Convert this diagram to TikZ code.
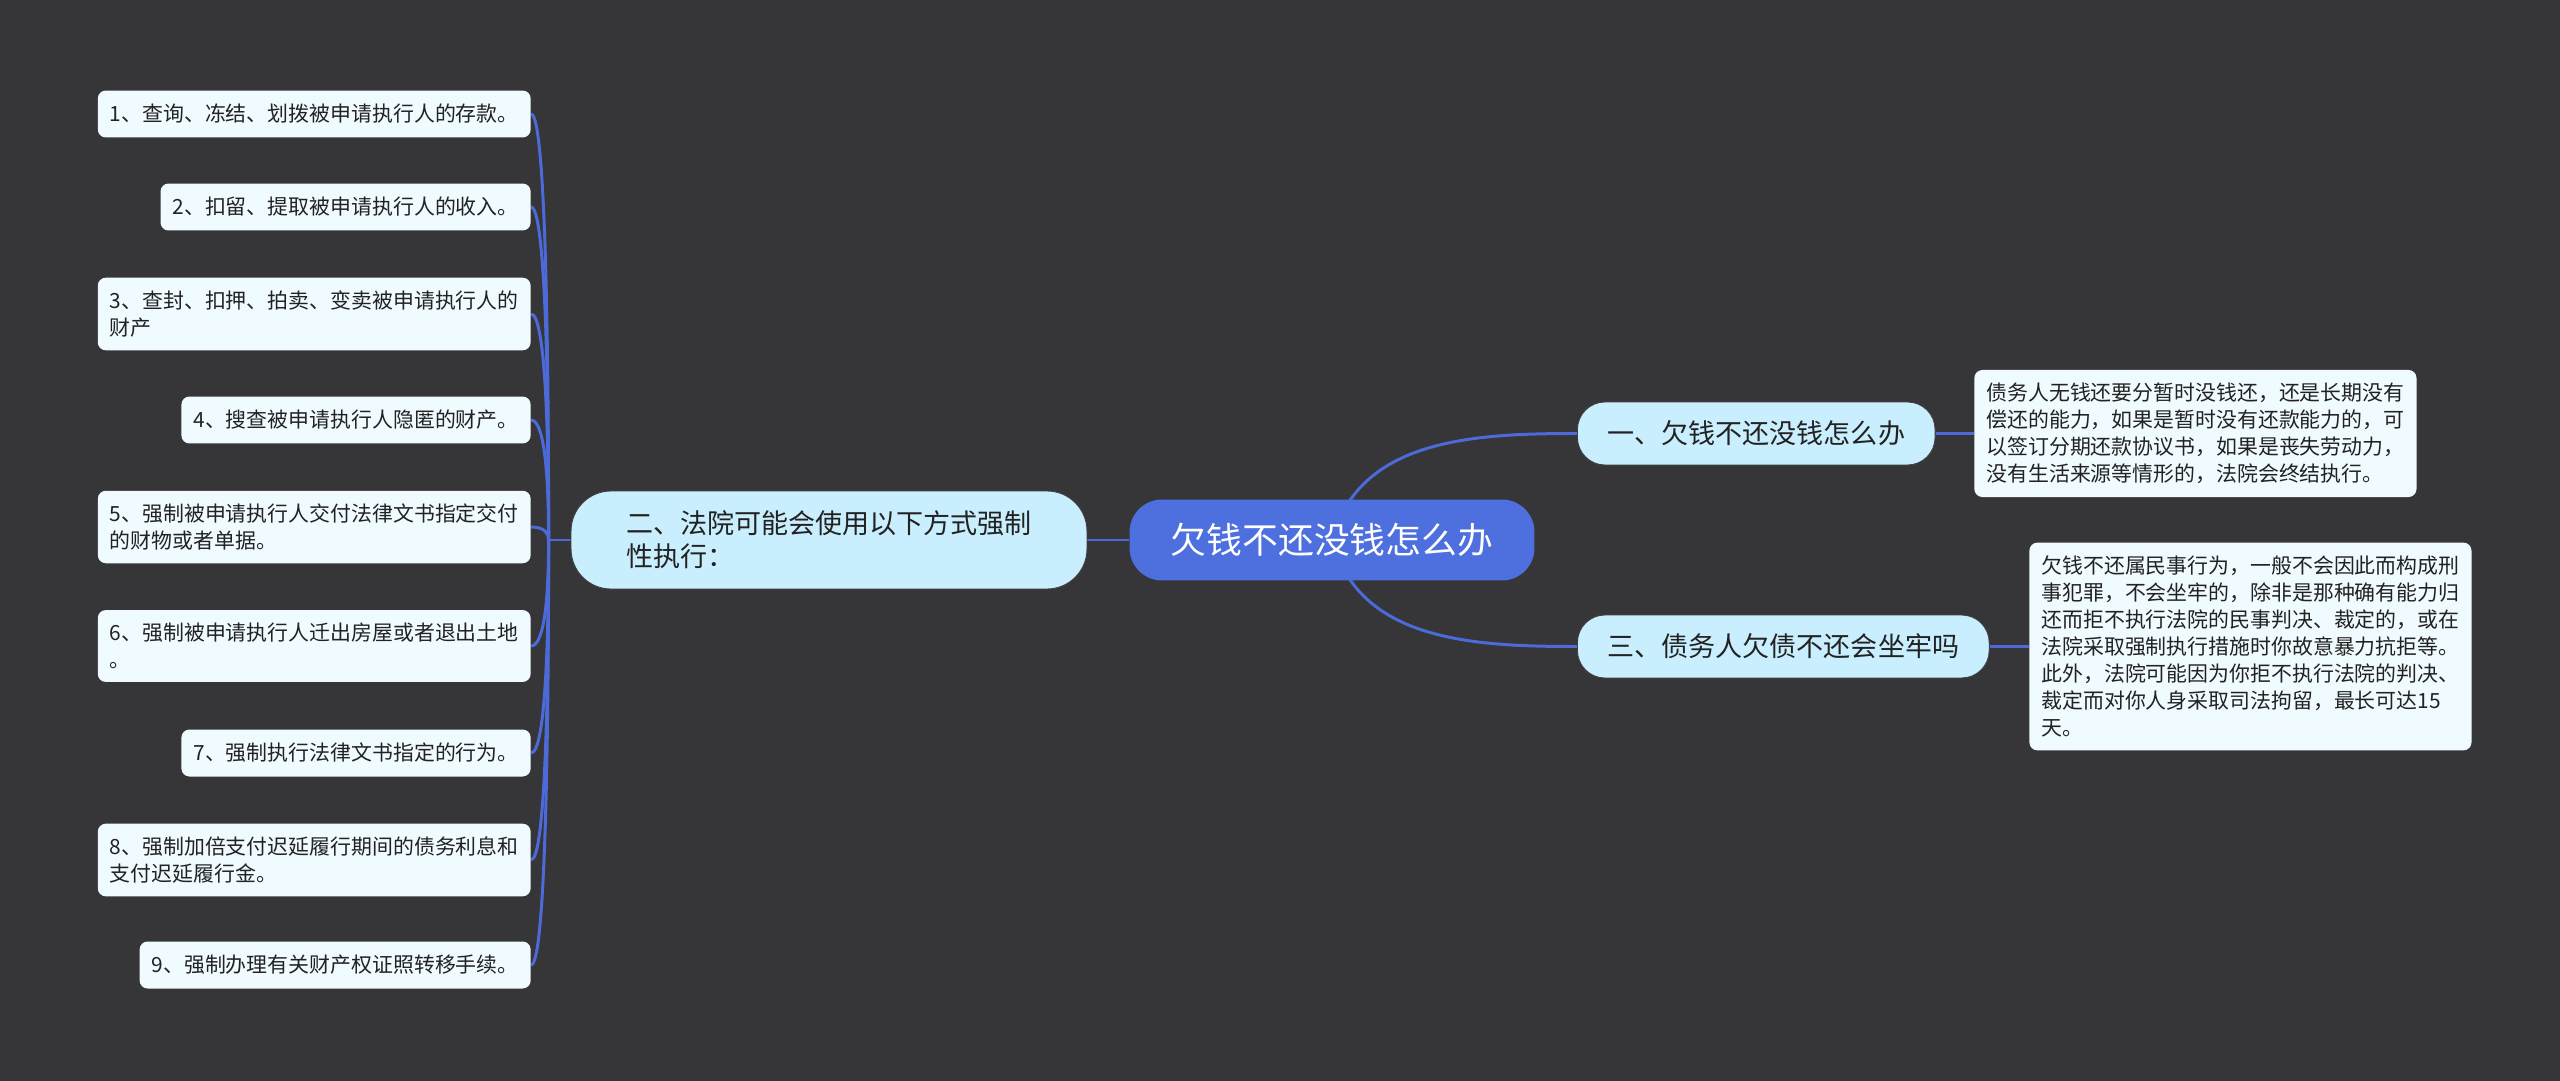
\documentclass[tikz,border=0pt]{standalone}
\usepackage{fontspec}
\setmainfont{Noto Sans CJK SC}
\usepackage{xcolor}
\usepackage{tikz}
\usetikzlibrary{positioning, calc, backgrounds}
\definecolor{bgdark}{RGB}{54, 53, 56}
\definecolor{rootblue}{RGB}{78, 111, 222}
\definecolor{linkblue}{RGB}{76, 106, 216}
\definecolor{branchsky}{RGB}{201, 238, 253}
\definecolor{leafwhite}{RGB}{240, 251, 255}
\definecolor{inkdark}{RGB}{34, 34, 34}

\begin{document}
\begin{tikzpicture}[x=0.02cm, y=-0.02cm,
    rootnode/.style={fill=rootblue, text=white, rounded corners=0.65cm,
        minimum width=8.1cm, minimum height=1.62cm,
        font=\fontsize{20.4}{24}\selectfont},
    branch/.style={fill=branchsky, draw=black!75, line width=0.5pt,
        text=inkdark, rounded corners=0.55cm, inner xsep=0.6cm,
        minimum height=1.26cm, align=left,
        font=\fontsize{15.4}{18.8}\selectfont},
    leaf/.style={fill=leafwhite, text=inkdark, rounded corners=0.16cm,
        inner xsep=0.24cm, inner ysep=0.26cm, minimum height=0.94cm,
        align=left, font=\fontsize{11.9}{15.4}\selectfont},
    link/.style={linkblue, line width=1.7pt}]
    % Background
    \begin{scope}[on background layer]
        \fill[bgdark] (0,0) rectangle (2560,1081);
    \end{scope}
    % Centre topic
    \node[rootnode] (root) at (1332,540) {欠钱不还没钱怎么办};
    % Main branches
    \node[branch, minimum width=10.32cm, minimum height=1.96cm,
          rounded corners=0.8cm] (courtways) at (829,540)
        {二、法院可能会使用以下方式强制\\性执行：};
    \node[branch, anchor=west] (howto) at (1577,433.5) {一、欠钱不还没钱怎么办};
    \node[branch, anchor=west] (jail) at (1577,646.5) {三、债务人欠债不还会坐牢吗};
    % Answers on the right
    \node[leaf, anchor=west] (tip1) at (1974,433.5)
        {债务人无钱还要分暂时没钱还，还是长期没有\\
         偿还的能力，如果是暂时没有还款能力的，可\\
         以签订分期还款协议书，如果是丧失劳动力，\\
         没有生活来源等情形的，法院会终结执行。};
    \node[leaf, anchor=west] (tip3) at (2029,646.5)
        {欠钱不还属民事行为，一般不会因此而构成刑\\
         事犯罪，不会坐牢的，除非是那种确有能力归\\
         还而拒不执行法院的民事判决、裁定的，或在\\
         法院采取强制执行措施时你故意暴力抗拒等。\\
         此外，法院可能因为你拒不执行法院的判决、\\
         裁定而对你人身采取司法拘留，最长可达15\\
         天。};
    % Enforcement measures on the left
    \node[leaf, anchor=east] (way1) at (531,114) {1、查询、冻结、划拨被申请执行人的存款。};
    \node[leaf, anchor=east] (way2) at (531,207) {2、扣留、提取被申请执行人的收入。};
    \node[leaf, anchor=east] (way3) at (531,314)
        {3、查封、扣押、拍卖、变卖被申请执行人的\\财产};
    \node[leaf, anchor=east] (way4) at (531,420) {4、搜查被申请执行人隐匿的财产。};
    \node[leaf, anchor=east] (way5) at (531,527)
        {5、强制被申请执行人交付法律文书指定交付\\的财物或者单据。};
    \node[leaf, anchor=east] (way6) at (531,646)
        {6、强制被申请执行人迁出房屋或者退出土地\\。};
    \node[leaf, anchor=east] (way7) at (531,753) {7、强制执行法律文书指定的行为。};
    \node[leaf, anchor=east] (way8) at (531,860)
        {8、强制加倍支付迟延履行期间的债务利息和\\支付迟延履行金。};
    \node[leaf, anchor=east] (way9) at (531,965) {9、强制办理有关财产权证照转移手续。};
    % Connectors
    \begin{scope}[on background layer]
        \draw[link] (root.west) -- (courtways.east);
        \draw[link] (root.center) to[out=75, in=180] (howto.west);
        \draw[link] (root.center) to[out=-75, in=180] (jail.west);
        \draw[link] (howto.east) -- (tip1.west);
        \draw[link] (jail.east) -- (tip3.west);
        \draw[link] (courtways.west) -- ++(-22,0) coordinate (hub);
        \foreach \i in {1,...,9} {
            \draw[link] (hub) .. controls ($(hub)!0.5!(hub |- way\i.east)$)
                and ($(way\i.east)+(14,0)$) .. (way\i.east);
        }
    \end{scope}
\end{tikzpicture}
\end{document}
